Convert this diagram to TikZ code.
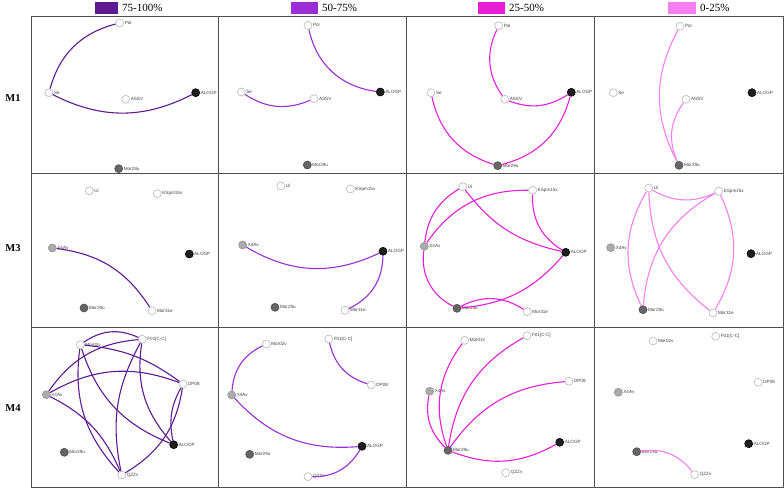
\documentclass[tikz,border=0pt]{standalone}
\usepackage{fontspec}
\setmainfont{Liberation Serif}
\newfontfamily\lblfont{Liberation Sans}
\definecolor{cA}{HTML}{5E1A91}
\definecolor{cB}{HTML}{9A2DD6}
\definecolor{cC}{HTML}{E61ED6}
\definecolor{cD}{HTML}{F57FEF}
\definecolor{frm}{HTML}{505050}
\tikzset{
  nd/.style={circle, line width=0.6pt, minimum size=8pt, inner sep=0pt},
  wn/.style={nd, draw=black!28, fill=white},
  lg/.style={nd, draw=black!42, fill=black!33},
  dg/.style={nd, draw=black!70, fill=black!60},
  bk/.style={nd, draw=black, fill=black!88},
  lbl/.style={font=\lblfont\fontsize{4.6}{5}\selectfont, text=black!75, inner sep=0.6pt},
  every label/.style={lbl},
  label distance=0pt,
  eA/.style={draw=cA, line width=1.1pt},
  eB/.style={draw=cB, line width=1.1pt},
  eC/.style={draw=cC, line width=1.1pt},
  eD/.style={draw=cD, line width=1.1pt},
  frame/.style={draw=frm, line width=1pt},
  legtxt/.style={anchor=west, font=\fontsize{11}{12}\selectfont, inner sep=0pt},
  rowtxt/.style={font=\bfseries\fontsize{10.5}{12}\selectfont, inner sep=0pt}
}
\begin{document}
\begin{tikzpicture}[x=1pt,y=1pt]
\useasboundingbox (0,0) rectangle (784,-489);
% legend
\fill[cA] (95,-2) rectangle (118,-14);
\node[legtxt] (lgA) at (122,-8) {75-100\%};
\fill[cB] (291,-2) rectangle (318,-14);
\node[legtxt] (lgB) at (322,-8) {50-75\%};
\fill[cC] (478,-2) rectangle (505,-14);
\node[legtxt] (lgC) at (509,-8) {25-50\%};
\fill[cD] (668,-2) rectangle (696,-14);
\node[legtxt] (lgD) at (700,-8) {0-25\%};
% frame
\draw[frame] (31,-17) rectangle (783,-487);
\foreach \xx in {218,406,594} \draw[frame] (\xx,-17) -- (\xx,-487);
\foreach \yy in {174,327} \draw[frame] (31,-\yy) -- (783,-\yy);
% row labels
\node[rowtxt] (rM1) at (13,-98) {M1};
\node[rowtxt] (rM3) at (13,-248) {M3};
\node[rowtxt] (rM4) at (13,-408) {M4};

% ---------- Row M1 ----------
\foreach \p/\a/\b/\c/\d/\e/\f/\g/\h/\i/\j in {
  11/119.7/23/49/92.7/195.7/92.7/125.7/99.3/118.7/168.7,
  12/308/25.3/241.3/92/380.3/92/314/98.7/307.3/165,
  13/498.7/25.7/431/92.7/571.3/92.3/504.7/99.3/497.7/165.7,
  14/680/26.3/613.3/92.7/752/92.7/686/99.3/679/165.3}{
  \node[wn, label={0:Pol}] (p\p pol) at (\a,-\b) {};
  \node[wn, label={0:Se}] (p\p se) at (\c,-\d) {};
  \node[bk, label={0:ALOGP}] (p\p alogp) at (\e,-\f) {};
  \node[wn, label={0:ASSV}] (p\p as) at (\g,-\h) {};
  \node[dg, label={0:Mor29u}] (p\p mor) at (\i,-\j) {};
}
\draw[eA] (p11pol) to[bend right=30] (p11se);
\draw[eA] (p11se) to[bend right=27] (p11alogp);
\draw[eB] (p12pol) to[bend right=35] (p12alogp);
\draw[eB] (p12se) to[bend right=28] (p12as);
\draw[eC] (p13pol) to[bend right=30] (p13as);
\draw[eC] (p13as) to[bend right=27] (p13alogp);
\draw[eC] (p13se) to[bend right=30] (p13mor);
\draw[eC] (p13mor) to[bend right=30] (p13alogp);
\draw[eD] (p14pol) to[bend right=28] (p14mor);
\draw[eD] (p14as) to[bend right=30] (p14mor);

% ---------- Row M3 ----------
\foreach \p/\a/\b/\c/\d/\e/\f/\g/\h/\i/\j/\k/\l in {
  21/89.3/190.7/157.3/193.7/52.3/248/189.3/254/84/308/152/310.7,
  22/280.7/186/350.3/189/242.7/245/383/251.3/275/307.3/345/310.3,
  23/462.7/186.7/532.7/190.3/424.3/246.3/565.7/252.3/457/308.3/527.3/311.7,
  24/648.7/188/718.7/191.3/610.7/247.7/751/253.7/643/309.7/713/313}{
  \node[wn, label={0:Ui}] (p\p ui) at (\a,-\b) {};
  \node[wn, label={0:ESpm15x}] (p\p esp) at (\c,-\d) {};
  \node[lg, label={0:X4Av}] (p\p x4) at (\e,-\f) {};
  \node[bk, label={0:ALOGP}] (p\p alogp) at (\g,-\h) {};
  \node[dg, label={0:Mor29u}] (p\p m29) at (\i,-\j) {};
  \node[wn, label={0:Mor31e}] (p\p m31) at (\k,-\l) {};
}
\draw[eA] (p21x4) to[bend left=25] (p21m31);
\draw[eB] (p22x4) to[bend right=28] (p22alogp);
\draw[eB] (p22alogp) to[bend left=32] (p22m31);
\draw[eC] (p23ui) to[bend right=26] (p23x4);
\draw[eC] (p23esp) to[bend right=28] (p23x4);
\draw[eC] (p23ui) to[bend right=20] (p23alogp);
\draw[eC] (p23esp) to[bend right=30] (p23alogp);
\draw[eC] (p23x4) to[bend right=35] (p23m29);
\draw[eC] (p23m29) to[bend right=22] (p23alogp);
\draw[eC] (p23m29) to[bend left=30] (p23m31);
\draw[eD] (p24ui) to[bend right=27] (p24esp);
\draw[eD] (p24ui) to[bend right=28] (p24m29);
\draw[eD] (p24ui) to[bend right=25] (p24m31);
\draw[eD] (p24esp) to[bend right=28] (p24m29);
\draw[eD] (p24esp) to[bend left=28] (p24m31);

% ---------- Row M4 ----------
\foreach \p/\a/\b/\c/\d/\e/\f/\g/\h/\i/\j/\k/\l/\m/\n in {
  31/80.3/344.7/142.3/339.3/183/384/46.3/394.7/173.7/444.7/64.3/452.3/121.7/475,
  32/266.3/344/328.7/339/371.3/385/231.7/395/362/446.3/249.7/454.3/308/476.7,
  33/464.7/340.3/527/335.7/569/381.3/429.7/391.3/559.7/442.3/448/450.3/505.7/472.7,
  34/653/341/715.7/336.3/758.3/382.3/618.3/392.3/748.7/443.7/636.7/451.7/694.7/474.7}{
  \node[wn, label={0:Mor02v}] (p\p m02) at (\a,-\b) {};
  \node[wn, label={0:F01[C-C]}] (p\p f01) at (\c,-\d) {};
  \node[wn, label={0:DP08}] (p\p dp) at (\e,-\f) {};
  \node[lg, label={0:X4Av}] (p\p x4) at (\g,-\h) {};
  \node[bk, label={0:ALOGP}] (p\p alogp) at (\i,-\j) {};
  \node[dg, label={0:Mor29u}] (p\p m29) at (\k,-\l) {};
  \node[wn, label={0:QZZv}] (p\p qzz) at (\m,-\n) {};
}
\draw[eA] (p31m02) to[bend left=30] (p31f01);
\draw[eA] (p31x4) to[bend left=25] (p31f01);
\draw[eA] (p31x4) to[bend left=25] (p31dp);
\draw[eA] (p31m02) to[bend left=15] (p31dp);
\draw[eA] (p31m02) to[bend right=25] (p31alogp);
\draw[eA] (p31m02) to[bend right=25] (p31qzz);
\draw[eA] (p31f01) to[bend right=20] (p31qzz);
\draw[eA] (p31f01) to[bend right=25] (p31alogp);
\draw[eA] (p31x4) to[bend left=20] (p31qzz);
\draw[eA] (p31dp) to[bend right=20] (p31alogp);
\draw[eA] (p31dp) to[bend left=25] (p31qzz);
\draw[eB] (p32m02) to[bend right=30] (p32x4);
\draw[eB] (p32f01) to[bend right=30] (p32dp);
\draw[eB] (p32x4) to[bend right=26] (p32alogp);
\draw[eB] (p32alogp) to[bend left=30] (p32qzz);
\draw[eC] (p33m29) to[bend left=28] (p33m02);
\draw[eC] (p33m29) to[bend left=26] (p33f01);
\draw[eC] (p33m29) to[bend left=25] (p33dp);
\draw[eC] (p33m29) to[bend left=28] (p33x4);
\draw[eC] (p33m29) to[bend right=25] (p33alogp);
\draw[eD] (p34m29) to[bend left=30] (p34qzz);
\end{tikzpicture}
\end{document}
